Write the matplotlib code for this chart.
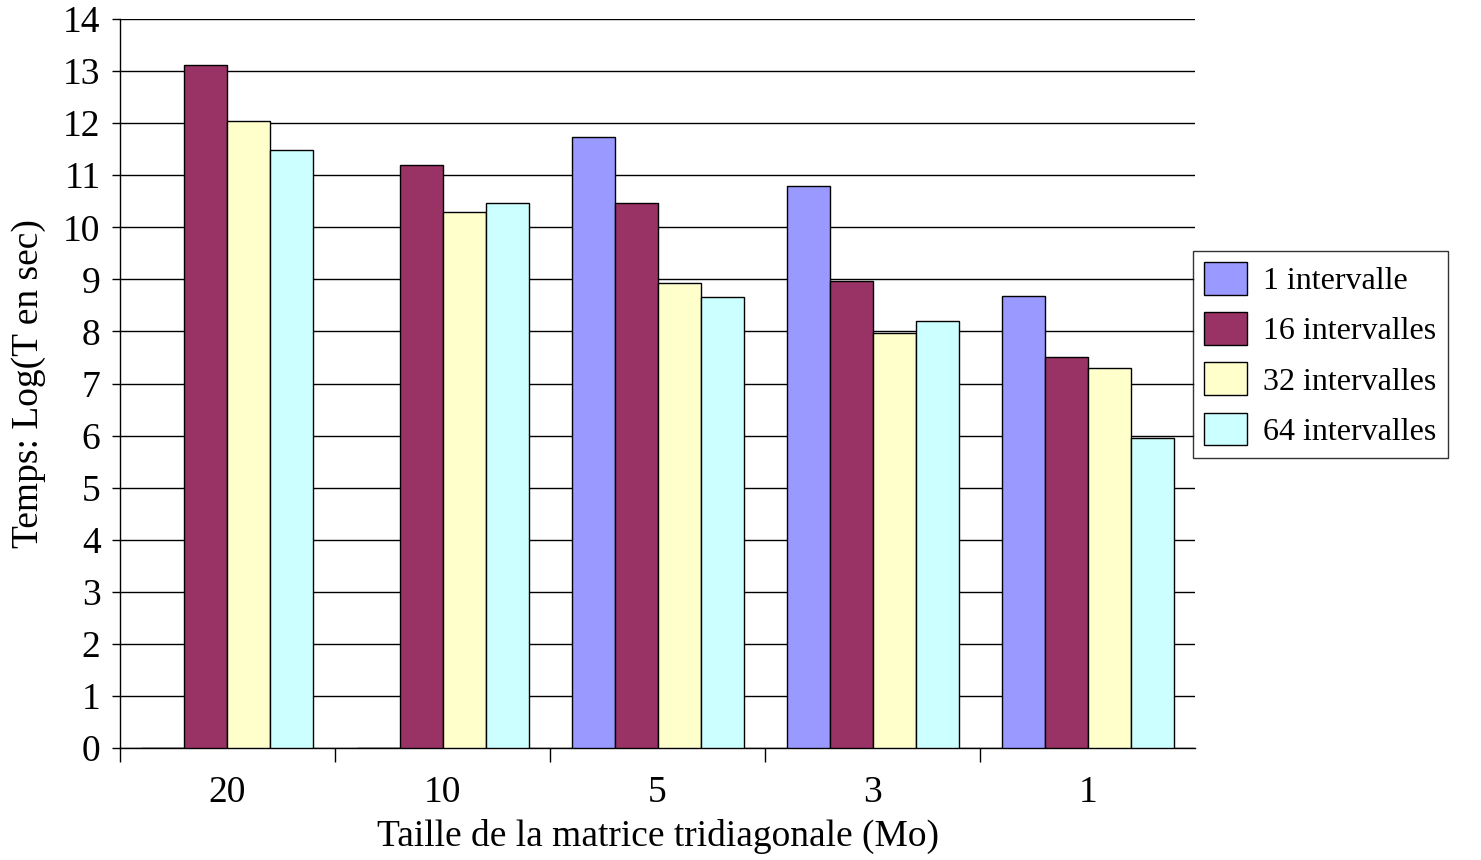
import matplotlib
matplotlib.use("Agg")
import matplotlib.pyplot as plt
import numpy as np

# Taille de la matrice (Mo) et temps log(T) par nombre d'intervalles
tailles = ["20", "10", "5", "3", "1"]
series = ["1 intervalle", "16 intervalles", "32 intervalles", "64 intervalles"]
t_1 = [0, 0, 11.73, 10.79, 8.68]
t_16 = [13.12, 11.20, 10.47, 8.97, 7.51]
t_32 = [12.04, 10.29, 8.93, 7.97, 7.30]
t_64 = [11.48, 10.47, 8.66, 8.20, 5.95]
couleurs = ["#9999FF", "#993366", "#FFFFCC", "#CCFFFF"]

plt.rcParams["font.family"] = ["Liberation Serif", "DejaVu Serif"]

fig = plt.figure(figsize=(14.81, 8.60), dpi=100)
ax = fig.add_axes([0.081, 0.130, 0.726, 0.848])

x = np.arange(len(tailles))
largeur = 0.2
for i, (vals, nom, c) in enumerate(zip([t_1, t_16, t_32, t_64], series, couleurs)):
    ax.bar(x + (i - 1.5) * largeur, vals, width=largeur, color=c,
           edgecolor="black", linewidth=1, label=nom, zorder=3)

ax.set_xlim(-0.5, len(tailles) - 0.5)
ax.set_ylim(0, 14)
ax.set_yticks(range(0, 15))
ax.yaxis.grid(True, color="black", linewidth=1, zorder=0)

# graduations x entre les groupes (pas au bout de l'axe), étiquettes au centre
ax.set_xticks(np.arange(-0.5, len(tailles) - 1, 1.0))
ax.set_xticklabels([])
ax.set_xticks(x, minor=True)
ax.set_xticklabels(tailles, minor=True, fontsize=27)
ax.tick_params(axis="x", which="major", direction="out", length=10, width=1)
ax.tick_params(axis="x", which="minor", length=0, pad=20)
ax.tick_params(axis="y", direction="out", length=6, width=1, labelsize=27, pad=8)

for s in ["top", "right"]:
    ax.spines[s].set_visible(False)
ax.spines["left"].set_linewidth(1)
ax.spines["bottom"].set_linewidth(1)

ax.set_xlabel("Taille de la matrice tridiagonale (Mo)", fontsize=27, labelpad=6)
ax.set_ylabel("Temps: Log(T en sec)", fontsize=27, labelpad=12)

leg = fig.legend(loc="upper left", bbox_to_anchor=(1193 / 1481, 1 - 251 / 860),
                 fontsize=23, frameon=True, fancybox=False, edgecolor="black",
                 handlelength=1.35, handleheight=1.2, handletextpad=0.5,
                 labelspacing=0.5, borderpad=0.35, borderaxespad=0)
leg.get_frame().set_linewidth(1)

fig.savefig("out.png", dpi=100)
